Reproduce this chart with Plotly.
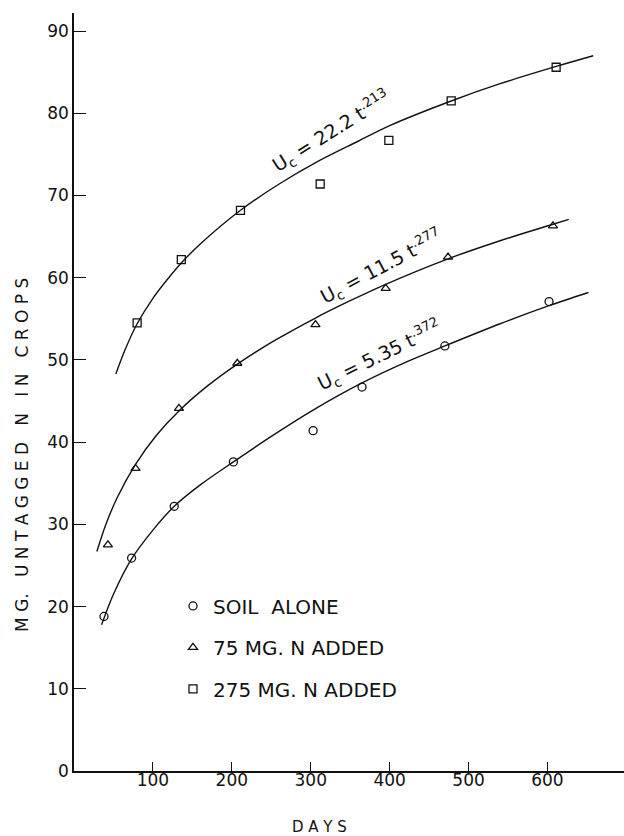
import plotly.graph_objects as go

# ---- data ----
soil_days = [38, 73, 127, 202, 303, 365, 470, 602]
soil_vals = [18.8, 25.9, 32.2, 37.6, 41.4, 46.7, 51.7, 57.1]

n75_days = [43, 78, 133, 207, 306, 395, 474, 607]
n75_vals = [27.5, 36.8, 44.1, 49.6, 54.3, 58.7, 62.5, 66.3]

n275_days = [80, 136, 211, 312, 399, 478, 611]
n275_vals = [54.5, 62.2, 68.2, 71.4, 76.7, 81.5, 85.6]

# fitted curves
fit_soil_days = [35, 50, 73, 100, 127, 160, 202, 250, 303, 365, 420, 470, 540, 602, 652]
fit_soil_vals = [17.8, 21.5, 25.8, 29.3, 32.2, 34.8, 37.6, 40.7, 43.9, 47.2, 49.7, 51.7, 54.4, 56.6, 58.2]

fit_n75_days = [29, 40, 55, 78, 105, 133, 170, 207, 255, 306, 350, 395, 474, 540, 607, 627]
fit_n75_vals = [26.7, 29.9, 33.3, 37.3, 40.9, 43.8, 46.9, 49.5, 52.4, 55.1, 57.2, 59.2, 62.3, 64.5, 66.5, 67.1]

fit_n275_days = [53, 65, 80, 100, 120, 136, 160, 211, 260, 312, 360, 400, 478, 540, 611, 658]
fit_n275_vals = [48.3, 51.3, 54.4, 57.5, 60.0, 61.8, 64.1, 68.2, 71.4, 74.3, 76.6, 78.5, 81.5, 83.6, 85.7, 87.0]

series_names = ["SOIL  ALONE", "75 MG. N ADDED", "275 MG. N ADDED"]
equations = ["U<sub>c</sub> = 5.35 t<sup>.372</sup>",
             "U<sub>c</sub> = 11.5 t<sup>.277</sup>",
             "U<sub>c</sub> = 22.2 t<sup>.213</sup>"]
eq_pos_days = [387, 390, 326]
eq_pos_vals = [50.6, 61.4, 77.8]
eq_angles = [-26, -28, -32]

x_ticks = [100, 200, 300, 400, 500, 600]
y_ticks = [0, 10, 20, 30, 40, 50, 60, 70, 80, 90]

FONT = "DejaVu Sans"
INK = "#111111"

fig = go.Figure()

for fx, fy in [(fit_soil_days, fit_soil_vals), (fit_n75_days, fit_n75_vals), (fit_n275_days, fit_n275_vals)]:
    fig.add_trace(go.Scatter(x=fx, y=fy, mode="lines", line=dict(color=INK, width=1.4, shape="spline", smoothing=0.9),
                             showlegend=False, hoverinfo="skip"))

symbols = ["circle-open", "triangle-up-open", "square-open"]
for i, (dx, dy) in enumerate([(soil_days, soil_vals), (n75_days, n75_vals), (n275_days, n275_vals)]):
    fig.add_trace(go.Scatter(x=dx, y=dy, mode="markers", name=series_names[i],
                             legendgroup=f"g{i}",
                             marker=dict(symbol=symbols[i], size=8, color=INK, line=dict(width=1.3, color=INK))))

for i in range(3):
    fig.add_annotation(x=eq_pos_days[i], y=eq_pos_vals[i], xref="x", yref="y", text=equations[i],
                       textangle=eq_angles[i], showarrow=False, font=dict(family=FONT, size=19, color=INK))

fig.add_annotation(x=0.447, y=-0.0739, xref="paper", yref="paper", text="D A Y S", showarrow=False,
                   xanchor="center", yanchor="middle",
                   font=dict(family=FONT, size=15, color=INK))
fig.add_annotation(x=-0.0945, y=0.417, xref="paper", yref="paper",
                   text="M G.   U N T A G G E D   N   I N   C R O P S", textangle=-90, showarrow=False,
                   xanchor="center", yanchor="middle",
                   font=dict(family=FONT, size=17, color=INK))

fig.update_layout(
    width=624, height=836,
    margin=dict(l=74, r=0, t=13, b=65),
    paper_bgcolor="white", plot_bgcolor="white",
    showlegend=True,
    legend=dict(x=0.18, y=0.2435, xanchor="left", yanchor="top", bgcolor="rgba(0,0,0,0)",
                font=dict(family=FONT, size=20, color=INK), traceorder="grouped", tracegroupgap=12.5,
                borderwidth=0),
    xaxis=dict(range=[0, 697], tickvals=x_ticks, ticks="inside", ticklen=9, tickwidth=1.3, tickcolor=INK,
               showline=True, linecolor=INK, linewidth=1.5, showgrid=False, zeroline=False,
               ticklabelstandoff=-7,
               tickfont=dict(family=FONT, size=17, color=INK)),
    yaxis=dict(range=[0, 92.2], tickvals=y_ticks, ticks="inside", ticklen=12, tickwidth=1.3, tickcolor=INK,
               showline=True, linecolor=INK, linewidth=1.5, showgrid=False, zeroline=False,
               tickfont=dict(family=FONT, size=17, color=INK)),
)

fig.write_html("out.html")
